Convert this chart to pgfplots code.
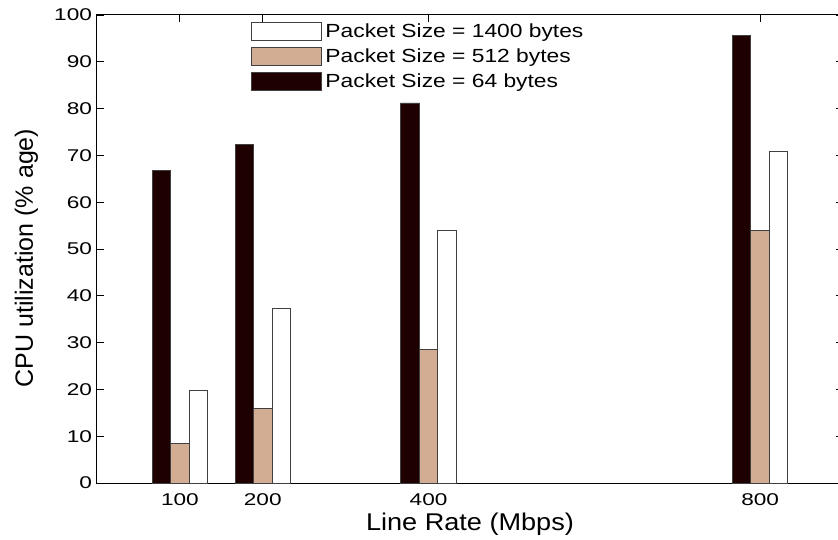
\documentclass[border=0pt]{standalone}
\usepackage{pgfplots}
\pgfplotsset{compat=1.18}
\usepackage{fontspec}
\setmainfont{Liberation Sans}
\newfontfamily\tickfamily{Liberation Sans}[FakeStretch=1.33]
\newfontfamily\legfamily{Liberation Sans}[FakeStretch=1.2]
\newfontfamily\xlabfamily{Liberation Sans}[FakeStretch=1.12]
\definecolor{darkbar}{RGB}{30,0,0}
\definecolor{tanbar}{RGB}{210,173,148}
\pgfplotsset{mylegend/.style={legend image code/.code={\draw[##1] (0pt,-9pt) rectangle (70pt,9pt);}}}
\begin{document}
\begin{tikzpicture}
\useasboundingbox (-97pt,-56pt) rectangle (741pt,483pt);
\begin{axis}[
  at={(0pt,0pt)}, anchor=south west,
  scale only axis, width=746pt, height=468pt,
  xmin=0, xmax=900, ymin=0, ymax=100,
  ybar, bar width=22.3,
  xtick={100,200,400,800}, ytick={0,10,...,100},
  tick align=inside, tick pos=both, major tick length=7pt,
  axis line style={line width=1pt, black},
  every tick/.style={black, line width=0.8pt},
  /pgf/number format/assume math mode=true,
  xticklabel style={font=\tickfamily\fontsize{17}{20}\selectfont, yshift=-7.5pt},
  yticklabel style={font=\tickfamily\fontsize{17}{20}\selectfont, xshift=-1.5pt},
  xlabel={\xlabfamily\fontsize{24.2}{28}\selectfont Line Rate (Mbps)},
  xlabel style={at={(axis description cs:0.5,0)}, anchor=base, yshift=-47pt},
  ylabel={\fontsize{25}{29}\selectfont CPU utilization (\% age)},
  ylabel style={at={(axis description cs:-0.0858,0.4808)}, anchor=base},
  legend style={at={(axis description cs:0.2064,0.9855)}, anchor=north west,
    draw=none, fill=none, inner sep=0pt, row sep=6.2pt, column sep=3.5pt,
    font=\legfamily\fontsize{19}{22}\selectfont,
    nodes={inner sep=0pt}},
  legend cell align=left,
  reverse legend,
]
\addplot[fill=darkbar, draw=black!75, line width=0.8pt, bar shift=-22.3, mylegend]
  coordinates {(100,66.7) (200,72.4) (400,81.2) (800,95.7)};
\addplot[fill=tanbar, draw=black!75, line width=0.8pt, bar shift=0, mylegend]
  coordinates {(100,8.5) (200,15.9) (400,28.6) (800,53.9)};
\addplot[fill=white, draw=black!75, line width=0.8pt, bar shift=22.3, mylegend]
  coordinates {(100,19.7) (200,37.3) (400,53.9) (800,70.8)};
\legend{Packet Size = 64 bytes, Packet Size = 512 bytes, Packet Size = 1400 bytes}
\end{axis}
\end{tikzpicture}
\end{document}
